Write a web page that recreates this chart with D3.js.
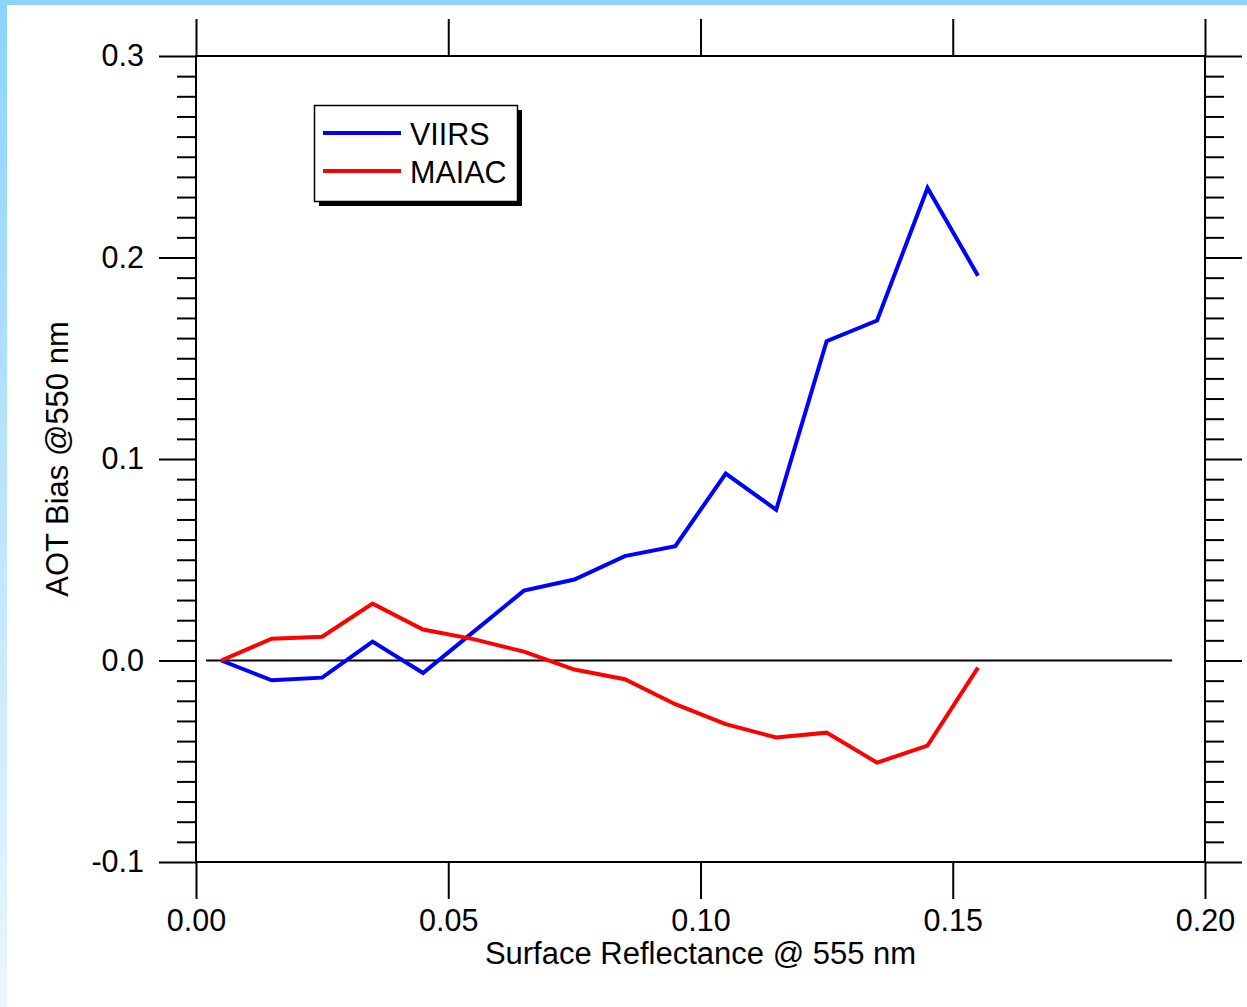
<!DOCTYPE html>
<html>
<head>
<meta charset="utf-8">
<script src="https://cdn.jsdelivr.net/npm/d3@7"></script>
<style>
  body { margin: 0; background: #fff; }
  svg { display: block; font-family: "Liberation Sans", Arial, Helvetica, sans-serif; }
</style>
</head>
<body>
<svg id="chart" width="1247" height="1007"></svg>
<script>
// surface reflectance bins (bin centres)
const reflectance = [0.005, 0.015, 0.025, 0.035, 0.045, 0.055, 0.065, 0.075,
                     0.085, 0.095, 0.105, 0.115, 0.125, 0.135, 0.145, 0.155];
const viirsBias = [0.0, -0.0098, -0.0085, 0.0094, -0.0062, 0.0142, 0.0347, 0.0402,
                   0.0518, 0.0567, 0.0928, 0.0748, 0.1585, 0.1687, 0.2345, 0.191];
const maiacBias = [0.0, 0.0108, 0.0118, 0.0282, 0.0154, 0.0106, 0.0044, -0.0045,
                   -0.0093, -0.0217, -0.0316, -0.0382, -0.0358, -0.0507, -0.0422, -0.0035];
const xTicks = [0.00, 0.05, 0.10, 0.15, 0.20];
const yTicks = [-0.1, 0.0, 0.1, 0.2, 0.3];
const seriesNames = ["VIIRS", "MAIAC"];
const seriesColors = ["#0000ff", "#ff0000"];

const svg = d3.select("#chart");

// light blue frame on top and left
const defs = svg.append("defs");
const grad = defs.append("linearGradient")
    .attr("id", "edge").attr("x1", 0).attr("y1", 0).attr("x2", 0).attr("y2", 1);
grad.append("stop").attr("offset", "0%").attr("stop-color", "#8dd3fe");
grad.append("stop").attr("offset", "100%").attr("stop-color", "#eaf6fe");
svg.append("rect").attr("x", 0).attr("y", 0).attr("width", 7).attr("height", 1007).attr("fill", "url(#edge)");
svg.append("rect").attr("x", 0).attr("y", 0).attr("width", 1247).attr("height", 5).attr("fill", "#8dd3fe");

const plotL = 196, plotR = 1205, plotT = 56, plotB = 862;

const x = d3.scaleLinear().domain([0, 0.2]).range([plotL, plotR]);
const y = d3.scaleLinear().domain([-0.1, 0.3]).range([plotB, plotT]);

const majorLen = 37, minorLen = 19;
const minorY = d3.range(-100, 301, 10).map(v => v / 1000).filter(v => Math.abs(v * 10 - Math.round(v * 10)) > 1e-6);

// plain hyphen for negatives, like the original
const fmt = p => v => d3.format(p)(v).replace("\u2212", "-");

// axes with outward ticks, NCL style
const axisG = svg.append("g");

function styleAxis(g) {
    g.select(".domain").remove();
    g.selectAll(".tick line").attr("stroke", "#000").attr("stroke-width", 2);
    g.selectAll(".tick text").attr("fill", "#000");
    g.attr("font-size", 30.5).attr("font-family", null);
}

axisG.append("g").attr("transform", `translate(0,${plotB})`)
    .call(d3.axisBottom(x).tickValues(xTicks).tickFormat(fmt(".2f")).tickSize(majorLen).tickPadding(10))
    .call(styleAxis);

axisG.append("g").attr("transform", `translate(0,${plotT})`)
    .call(d3.axisTop(x).tickValues(xTicks).tickSize(majorLen).tickFormat(""))
    .call(styleAxis);

axisG.append("g").attr("transform", `translate(${plotL},0)`)
    .call(d3.axisLeft(y).tickValues(yTicks).tickFormat(fmt(".1f")).tickSize(majorLen).tickPadding(15))
    .call(styleAxis);

axisG.append("g").attr("transform", `translate(${plotL},0)`)
    .call(d3.axisLeft(y).tickValues(minorY).tickSize(minorLen).tickFormat(""))
    .call(styleAxis);

axisG.append("g").attr("transform", `translate(${plotR},0)`)
    .call(d3.axisRight(y).tickValues(yTicks).tickSize(majorLen).tickFormat(""))
    .call(styleAxis);

axisG.append("g").attr("transform", `translate(${plotR},0)`)
    .call(d3.axisRight(y).tickValues(minorY).tickSize(minorLen).tickFormat(""))
    .call(styleAxis);

// frame
svg.append("rect")
    .attr("x", plotL).attr("y", plotT)
    .attr("width", plotR - plotL).attr("height", plotB - plotT)
    .attr("fill", "none").attr("stroke", "#000").attr("stroke-width", 2);

// zero reference line
svg.append("line")
    .attr("x1", x(0.002)).attr("x2", x(0.1935))
    .attr("y1", y(0)).attr("y2", y(0))
    .attr("stroke", "#000").attr("stroke-width", 2);

// data lines
const line = d3.line().x(d => x(d[0])).y(d => y(d[1]));
[viirsBias, maiacBias].forEach((vals, i) => {
    svg.append("path")
        .datum(reflectance.map((r, j) => [r, vals[j]]))
        .attr("d", line)
        .attr("fill", "none")
        .attr("stroke", seriesColors[i])
        .attr("stroke-width", 4)
        .attr("stroke-linejoin", "miter");
});

// axis titles
svg.append("text")
    .attr("x", x(0.1)).attr("y", 964)
    .attr("text-anchor", "middle").attr("font-size", 31)
    .text("Surface Reflectance @ 555 nm");

svg.append("text")
    .attr("transform", `translate(68,${y(0.1)}) rotate(-90)`)
    .attr("text-anchor", "middle").attr("font-size", 31)
    .text("AOT Bias @550 nm");

// legend with drop shadow
const lg = svg.append("g");
lg.append("rect").attr("x", 319).attr("y", 110).attr("width", 203).attr("height", 96).attr("fill", "#000");
lg.append("rect").attr("x", 314.5).attr("y", 105.5).attr("width", 203).attr("height", 96)
    .attr("fill", "#fff").attr("stroke", "#000").attr("stroke-width", 1.5);
seriesNames.forEach((name, i) => {
    const ly = 133 + i * 38;
    lg.append("line").attr("x1", 323).attr("x2", 401).attr("y1", ly).attr("y2", ly)
        .attr("stroke", seriesColors[i]).attr("stroke-width", 4);
    lg.append("text").attr("x", 410).attr("y", ly + 12).attr("font-size", 30.5).text(name);
});
</script>
</body>
</html>
